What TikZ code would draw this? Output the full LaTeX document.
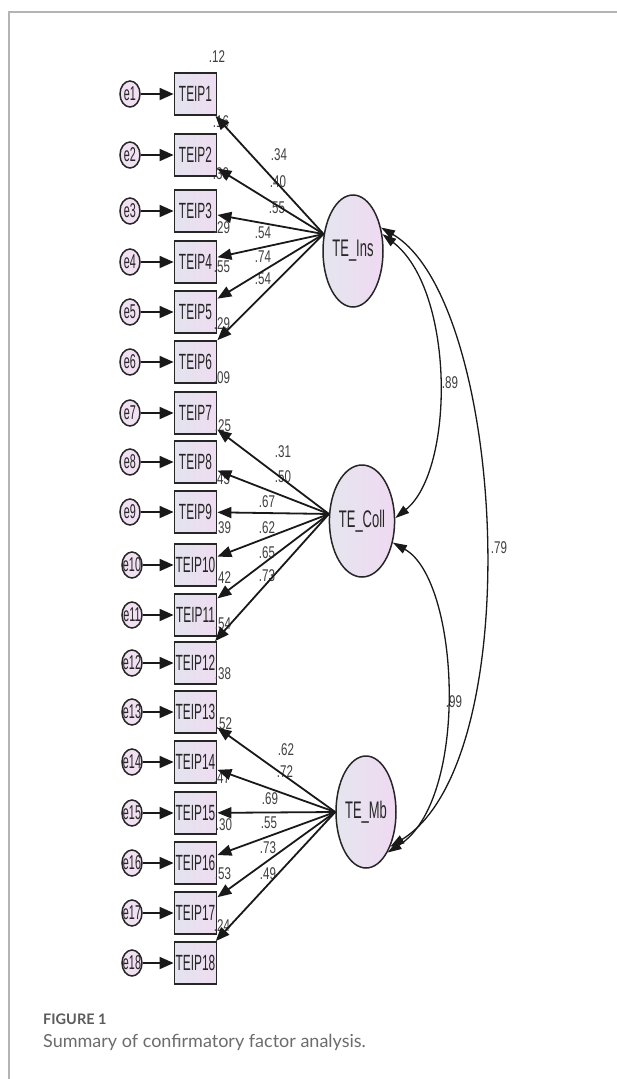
\documentclass[tikz,border=0pt]{standalone}
\usepackage{fontspec}
\setmainfont{Liberation Sans}
\newfontfamily\amos[FakeStretch=0.54]{Liberation Sans}
\newfontfamily\amosnum[FakeStretch=0.68]{Liberation Sans}
\newfontfamily\capfont{Lato}
\usetikzlibrary{arrows.meta,shapes.geometric}
\definecolor{boxL}{HTML}{E4E3EF}
\definecolor{boxR}{HTML}{EEDDF0}
\definecolor{latL}{HTML}{E5E5EF}
\definecolor{latR}{HTML}{EFDAF1}
\definecolor{errF}{HTML}{F1E0F2}
\definecolor{capgray}{HTML}{5C5C5C}
\definecolor{framegray}{HTML}{B4B4B4}
\tikzset{
  obs/.style={draw=black!85, line width=1.8pt, rectangle, minimum width=42pt,
    minimum height=42pt, inner sep=0pt, left color=boxL, right color=boxR,
    font=\amos\fontsize{22}{22}\selectfont, text=black!85},
  lat/.style={draw=black!85, line width=1.5pt, ellipse, minimum width=60pt,
    minimum height=112pt, inner sep=0pt, left color=latL, right color=latR,
    font=\amos\fontsize{24}{24}\selectfont, text=black!85},
  err/.style={draw=black!85, line width=1.5pt, ellipse, minimum width=20pt,
    minimum height=26pt, inner sep=0pt, fill=errF},
  errtext/.style={font=\amos\fontsize{20}{20}\selectfont, inner sep=0pt, text=black!85},
  num/.style={font=\amosnum\fontsize{17}{17}\selectfont, text=black!75, inner sep=0pt},
  loadarrow/.style={line width=1.8pt, draw=black!90, -{Triangle[length=14pt,width=11pt]}},
  errarrow/.style={line width=1.8pt, draw=black!90, -{Triangle[length=14pt,width=12pt]}},
  covarrow/.style={line width=1.3pt, draw=black!90,
    {Triangle[length=14pt,width=9pt]}-{Triangle[length=14pt,width=9pt]}},
}
\begin{document}
\begin{tikzpicture}[x=1pt,y=-1pt]
\useasboundingbox (0,0) rectangle (617,1079);
\fill[white] (0,0) rectangle (617,1079);
% page frame
\draw[framegray, line width=1.2pt] (9,1079) -- (9,12) -- (617,12);

% observed indicators and their error terms
\foreach \i/\y in {1/94,2/155,3/211,4/262,5/312,6/362,7/413,8/462,9/512,
                   10/565,11/615,12/663,13/712,14/762,15/813,16/863,17/913,18/963}{
  \node[obs] (b\i) at (195.5,\y) {TEIP\i};
  \pgfmathsetmacro{\ex}{\i<10 ? 130 : 132}
  \node[err, label={[errtext]center:e\i}] (e\i) at (\ex,\y) {};
}

% latent factors
\node[lat] (ins)  at (353,251) {TE\_Ins};
\node[lat] (coll) at (362,521) {TE\_Coll};
\node[lat] (mb)   at (366,812) {TE\_Mb};

% squared multiple correlations
\foreach \v/\x/\y [count=\k] in {.12/217/57,.16/221/122,.30/221/174,.29/222/228,
    .55/222/267,.29/222/324,.09/222/378,.25/223/426,.45/222/479,.39/223/528,
    .42/223/578,.54/223/624,.38/223/674,.52/224/724,.47/222/778,.30/224/825,
    .53/223/874,.24/222/926}{
  \node[num] (r\k) at (\x,\y) {\v};
}

% factor loadings
\foreach \v/\x/\y [count=\k] in {.34/279/155,.40/278/182,.55/277/208,.54/263/233,
    .74/263/257,.54/263/279,.31/283/452,.50/283/477,.67/267/502,.62/267/528,
    .65/267/553,.73/267/576,.62/286/750,.72/285/772,.69/270/799,.55/269/823,
    .73/268/848,.49/268/874}{
  \node[num] (l\k) at (\x,\y) {\v};
}

% error arrows
\foreach \i in {1,...,18}{
  \draw[errarrow] (e\i) -- (b\i);
}

% loading arrows
\foreach \i in {1,...,6}   { \draw[loadarrow] (ins.150) -- (b\i); }
\foreach \i in {7,...,12}  { \draw[loadarrow] (coll.168) -- (b\i); }
\foreach \i in {13,...,18} { \draw[loadarrow] (mb.west) -- (b\i); }

% factor covariances
\draw[covarrow] (ins.30) .. controls (455,290) and (455,470) .. (coll.5);
\draw[covarrow] (ins.40) .. controls (505,300) and (530,760) .. (mb.-55);
\draw[covarrow] (coll.-35) .. controls (460,580) and (470,800) .. (mb.-62);
\node[num] (c1) at (450,383) {.89};
\node[num] (c2) at (499,548) {.79};
\node[num] (c3) at (454,702) {.99};

% caption
\node[anchor=base west, inner sep=0pt, text=capgray,
  font=\capfont\bfseries\fontsize{14.5}{14.5}\selectfont] (figlab) at (43,1024) {FIGURE 1};
\node[anchor=base west, inner sep=0pt, text=capgray!90,
  font=\capfont\fontsize{18}{18}\selectfont] (figcap) at (43,1047)
  {Summary of confirmatory factor analysis.};
\end{tikzpicture}
\end{document}
